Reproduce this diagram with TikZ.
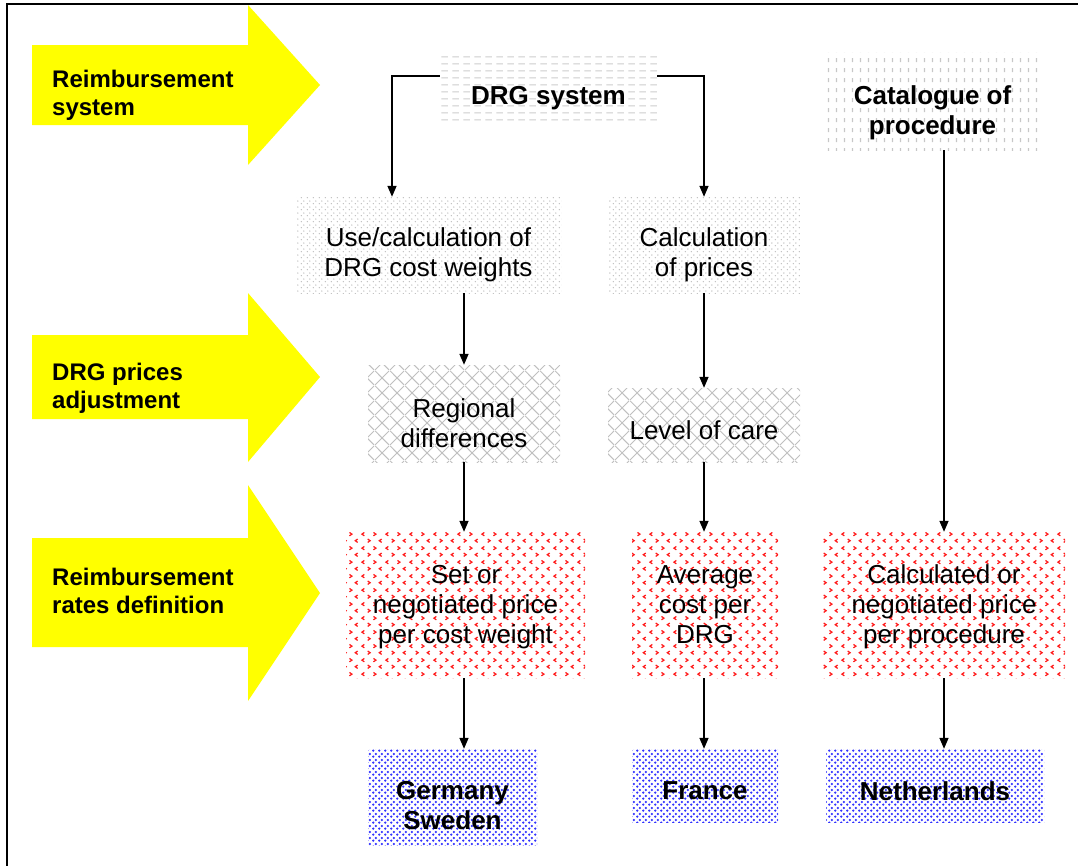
\documentclass[tikz,border=0pt]{standalone}
\usepackage{fontspec}
\setmainfont{Liberation Sans}
\usetikzlibrary{patterns,arrows.meta,calc}

% --- fill patterns for the boxes ---
\pgfdeclarepatternformonly{hdashes}{\pgfpointorigin}{\pgfpoint{11pt}{7pt}}{\pgfpoint{11pt}{7pt}}{%
  \pgfsetlinewidth{1.3pt}%
  \pgfpathmoveto{\pgfpoint{1.5pt}{3.5pt}}\pgfpathlineto{\pgfpoint{8.5pt}{3.5pt}}%
  \pgfusepath{stroke}}
\pgfdeclarepatternformonly{vdashes}{\pgfpointorigin}{\pgfpoint{7.5pt}{10pt}}{\pgfpoint{7.5pt}{10pt}}{%
  \pgfsetlinewidth{1.4pt}%
  \pgfpathmoveto{\pgfpoint{3.75pt}{3pt}}\pgfpathlineto{\pgfpoint{3.75pt}{7.5pt}}%
  \pgfusepath{stroke}}
\pgfdeclarepatternformonly{finedots}{\pgfpointorigin}{\pgfpoint{6pt}{6pt}}{\pgfpoint{6pt}{6pt}}{%
  \pgfpathcircle{\pgfpoint{1.5pt}{1.5pt}}{0.85pt}%
  \pgfpathcircle{\pgfpoint{4.5pt}{4.5pt}}{0.85pt}%
  \pgfusepath{fill}}
\pgfdeclarepatternformonly{diamondgrid}{\pgfpointorigin}{\pgfpoint{15pt}{15pt}}{\pgfpoint{15pt}{15pt}}{%
  \pgfsetlinewidth{1pt}%
  \pgfpathmoveto{\pgfpoint{0pt}{0pt}}\pgfpathlineto{\pgfpoint{15pt}{15pt}}%
  \pgfpathmoveto{\pgfpoint{0pt}{15pt}}\pgfpathlineto{\pgfpoint{15pt}{0pt}}%
  \pgfusepath{stroke}}
\pgfdeclarepatternformonly{chevrons}{\pgfpointorigin}{\pgfpoint{24pt}{14pt}}{\pgfpoint{24pt}{14pt}}{%
  \pgfsetlinewidth{1.3pt}%
  % row one: < then >
  \pgfpathmoveto{\pgfpoint{4.5pt}{12.3pt}}\pgfpathlineto{\pgfpoint{2pt}{10.5pt}}\pgfpathlineto{\pgfpoint{4.5pt}{8.7pt}}%
  \pgfpathmoveto{\pgfpoint{14pt}{12.3pt}}\pgfpathlineto{\pgfpoint{16.5pt}{10.5pt}}\pgfpathlineto{\pgfpoint{14pt}{8.7pt}}%
  % row two: > then <
  \pgfpathmoveto{\pgfpoint{8pt}{5.3pt}}\pgfpathlineto{\pgfpoint{10.5pt}{3.5pt}}\pgfpathlineto{\pgfpoint{8pt}{1.7pt}}%
  \pgfpathmoveto{\pgfpoint{22.5pt}{5.3pt}}\pgfpathlineto{\pgfpoint{20pt}{3.5pt}}\pgfpathlineto{\pgfpoint{22.5pt}{1.7pt}}%
  \pgfusepath{stroke}}
\pgfdeclarepatternformonly{bluedots}{\pgfpointorigin}{\pgfpoint{6pt}{6pt}}{\pgfpoint{6pt}{6pt}}{%
  \pgfpathcircle{\pgfpoint{1.5pt}{1.5pt}}{1.45pt}%
  \pgfpathcircle{\pgfpoint{4.5pt}{4.5pt}}{1.45pt}%
  \pgfusepath{fill}}

\definecolor{bandyellow}{RGB}{255,255,0}
\definecolor{dotblue}{RGB}{50,50,255}

\tikzset{
  panel/.style={inner sep=0pt},
  plain/.style={inner sep=0pt, align=center, font=\fontsize{26}{30}\selectfont},
  strong/.style={plain, font=\bfseries\fontsize{26}{30}\selectfont},
  dashbox/.style={panel, pattern=hdashes, pattern color=black!20},
  vdashbox/.style={panel, pattern=vdashes, pattern color=black!22},
  dotbox/.style={panel, pattern=finedots, pattern color=black!26},
  hatchbox/.style={panel, pattern=diamondgrid, pattern color=black!25},
  redbox/.style={panel, pattern=chevrons, pattern color=red!90},
  bluebox/.style={panel, pattern=bluedots, pattern color=dotblue},
  conn/.style={line width=1.5pt, -{Triangle[length=11pt,width=9pt]}},
  band/.style={fill=bandyellow, draw=none},
  bandtext/.style={anchor=west, align=left, inner sep=0pt,
                   font=\bfseries\fontsize{24}{28}\selectfont},
}

\begin{document}
\begin{tikzpicture}[x=1pt, y=-1pt]
\useasboundingbox (0,0) rectangle (1078,865);

% frame
\draw[line width=2pt] (7,866) -- (7,3.5) -- (1079,3.5);

% yellow stage arrows
\fill[band] (32,45) -- (248,45) -- (248,5) -- (320,85) -- (248,165) -- (248,125) -- (32,125) -- cycle;
\fill[band] (32,335) -- (248,335) -- (248,293) -- (320,377) -- (248,462) -- (248,419) -- (32,419) -- cycle;
\fill[band] (32,538) -- (248,538) -- (248,485) -- (320,593) -- (248,701) -- (248,647) -- (32,647) -- cycle;
\node[bandtext] (st1) at (52,95) {Reimbursement\\system};
\node[bandtext] (st2) at (52,388) {DRG prices\\adjustment};
\node[bandtext] (st3) at (52,591) {Reimbursement\\rates definition};

% patterned boxes
\node[dashbox,  minimum width=217pt, minimum height=71pt]  (drg)      at (548.5,87.5) {};
\node[vdashbox, minimum width=217pt, minimum height=98pt]  (cat)      at (932.5,101) {};
\node[dotbox,   minimum width=265pt, minimum height=96pt]  (usecalc)  at (428.5,245) {};
\node[dotbox,   minimum width=192pt, minimum height=96pt]  (calcp)    at (704,245) {};
\node[hatchbox, minimum width=192pt, minimum height=97pt]  (regional) at (464,413.5) {};
\node[hatchbox, minimum width=192pt, minimum height=74pt]  (level)    at (704,425) {};
\node[redbox,   minimum width=239pt, minimum height=146pt] (setor)    at (465.5,605) {};
\node[redbox,   minimum width=146pt, minimum height=146pt] (avg)      at (705,605) {};
\node[redbox,   minimum width=242pt, minimum height=146pt] (calcneg)  at (944,605) {};
\node[bluebox,  minimum width=169pt, minimum height=96pt]  (germany)  at (452.5,797) {};
\node[bluebox,  minimum width=146pt, minimum height=73pt]  (france)   at (705,785.5) {};
\node[bluebox,  minimum width=218pt, minimum height=73pt]  (neth)     at (935,785.5) {};

% box texts
\node[strong] (drgt)      at (548.5,98)  {DRG system};
\node[strong] (catt)      at (932.5,113) {Catalogue of\\procedure};
\node[plain]  (usecalct)  at (428.5,255) {Use/calculation of\\DRG cost weights};
\node[plain]  (calcpt)    at (704,255)   {Calculation\\of prices};
\node[plain]  (regionalt) at (464,423)   {Regional\\differences};
\node[plain]  (levelt)    at (704,430)   {Level of care};
\node[plain]  (setort)    at (465.5,607) {Set or\\negotiated price\\per cost weight};
\node[plain]  (avgt)      at (705,605)   {Average\\cost per\\DRG};
\node[plain]  (calcnegt)  at (944,607)   {Calculated or\\negotiated price\\per procedure};
\node[strong] (germanyt)  at (452.5,806) {Germany\\Sweden};
\node[strong] (francet)   at (705,791)   {France};
\node[strong] (netht)     at (935,791)   {Netherlands};

% connectors
\draw[conn] ([yshift=-24pt]drg.north west) -| ([xshift=-36.5pt]usecalc.north);
\draw[conn] ([yshift=-24pt]drg.north east) -| (calcp.north);
\draw[conn] (cat.south -| calcneg.north) -- (calcneg.north);
\draw[conn] (usecalc.south -| regional.north) -- (regional.north);
\draw[conn] (calcp.south) -- (level.north);
\draw[conn] (regional.south) -- (regional.south |- setor.north);
\draw[conn] (level.south) -- (level.south |- avg.north);
\draw[conn] (setor.south -| regional.south) -- (regional.south |- germany.north);
\draw[conn] (avg.south -| level.south) -- (level.south |- france.north);
\draw[conn] (calcneg.south) -- (calcneg.south |- neth.north);
\end{tikzpicture}
\end{document}
